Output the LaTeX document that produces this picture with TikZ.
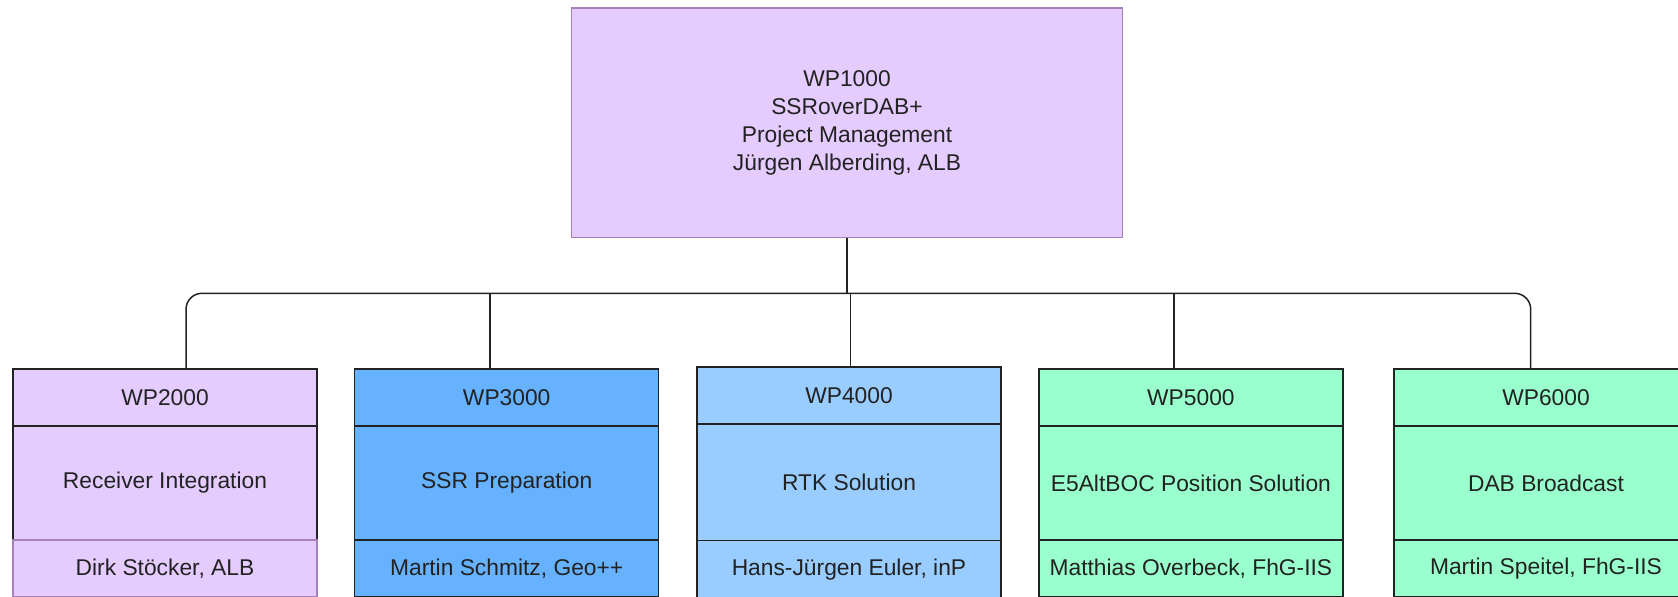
\documentclass[tikz,border=0pt]{standalone}
\usepackage{fontspec}
\setmainfont{Liberation Sans}
\usetikzlibrary{positioning}

\definecolor{lilac}{HTML}{E5CCFF}
\definecolor{lilacline}{HTML}{A680B8}
\definecolor{skyblue}{HTML}{66B2FF}
\definecolor{paleblue}{HTML}{99CCFF}
\definecolor{mint}{HTML}{99FFCC}
\definecolor{ink}{HTML}{222222}

\begin{document}
\begin{tikzpicture}[x = 0.5pt, y = -0.5pt, % one unit per pixel, y grows downwards
                node distance = 0pt, % cells of a work package touch
                line width = 0.75pt % line style
            ]

            \tikzstyle{every node}=[font = \fontsize{11.4}{14}\selectfont,
            text = ink, inner sep = 0pt, align = center]
            \tikzstyle{cell}=[draw = ink, rectangle, outer sep = 0pt,
            minimum width = 152pt]
            \tikzstyle{head}=[cell, anchor = north, minimum height = 28.5pt]
            \tikzstyle{task}=[cell, minimum height = 57pt]
            \tikzstyle{lead}=[cell, minimum height = 28.5pt]
            \tikzstyle{wire}=[draw = ink]

            \clip (0,0) rectangle (1678,596);

            % project management on top
            \node (wp1) [draw = lilacline, fill = lilac, anchor = north,
                minimum width = 275.6pt, minimum height = 114.7pt] at (847,7.3)
                {WP1000\\SSRoverDAB+\\Project Management\\J\"urgen Alberding, ALB};

            % work packages, one column each
            \node (wp2head) [head, fill = lilac] at (165,369) {WP2000};
            \node (wp2task) [task, fill = lilac, below = of wp2head] {Receiver Integration};
            \node (wp2lead) [lead, fill = lilac, draw = lilacline, below = of wp2task] {Dirk St\"ocker, ALB};

            \node (wp3head) [head, fill = skyblue] at (506.7,369) {WP3000};
            \node (wp3task) [task, fill = skyblue, below = of wp3head] {SSR Preparation};
            \node (wp3lead) [lead, fill = skyblue, below = of wp3task] {Martin Schmitz, Geo++};

            \node (wp4head) [head, fill = paleblue] at (849,367) {WP4000};
            \node (wp4task) [task, fill = paleblue, minimum height = 58.35pt,
                below = of wp4head] {RTK Solution};
            \node (wp4lead) [lead, fill = paleblue, below = of wp4task] {Hans-J\"urgen Euler, inP};

            \node (wp5head) [head, fill = mint] at (1190.9,369) {WP5000};
            \node (wp5task) [task, fill = mint, below = of wp5head] {E5AltBOC Position Solution};
            \node (wp5lead) [lead, fill = mint, below = of wp5task] {Matthias Overbeck, FhG-IIS};

            \node (wp6head) [head, fill = mint] at (1546,369) {WP6000};
            \node (wp6task) [task, fill = mint, below = of wp6head] {DAB Broadcast};
            \node (wp6lead) [lead, fill = mint, below = of wp6task] {Martin Speitel, FhG-IIS};

            % where the tree lines meet the headers
            \coordinate (bus) at (847,293.3);
            \coordinate (drop2) at ([xshift = 10.5pt]wp2head.north);
            \coordinate (drop3) at ([xshift = -8.35pt]wp3head.north);
            \coordinate (drop4) at ([xshift = 0.85pt]wp4head.north);
            \coordinate (drop5) at ([xshift = -8.45pt]wp5head.north);
            \coordinate (drop6) at ([xshift = -7.65pt]wp6head.north);

            \path[wire] (wp1) -- (bus);
            \path[wire, rounded corners = 8pt] (drop2) |- (bus) -| (drop6);
            \foreach \k in {3,4,5}
                \path[wire] (drop\k) -- (drop\k |- bus);
\end{tikzpicture}
\end{document}
